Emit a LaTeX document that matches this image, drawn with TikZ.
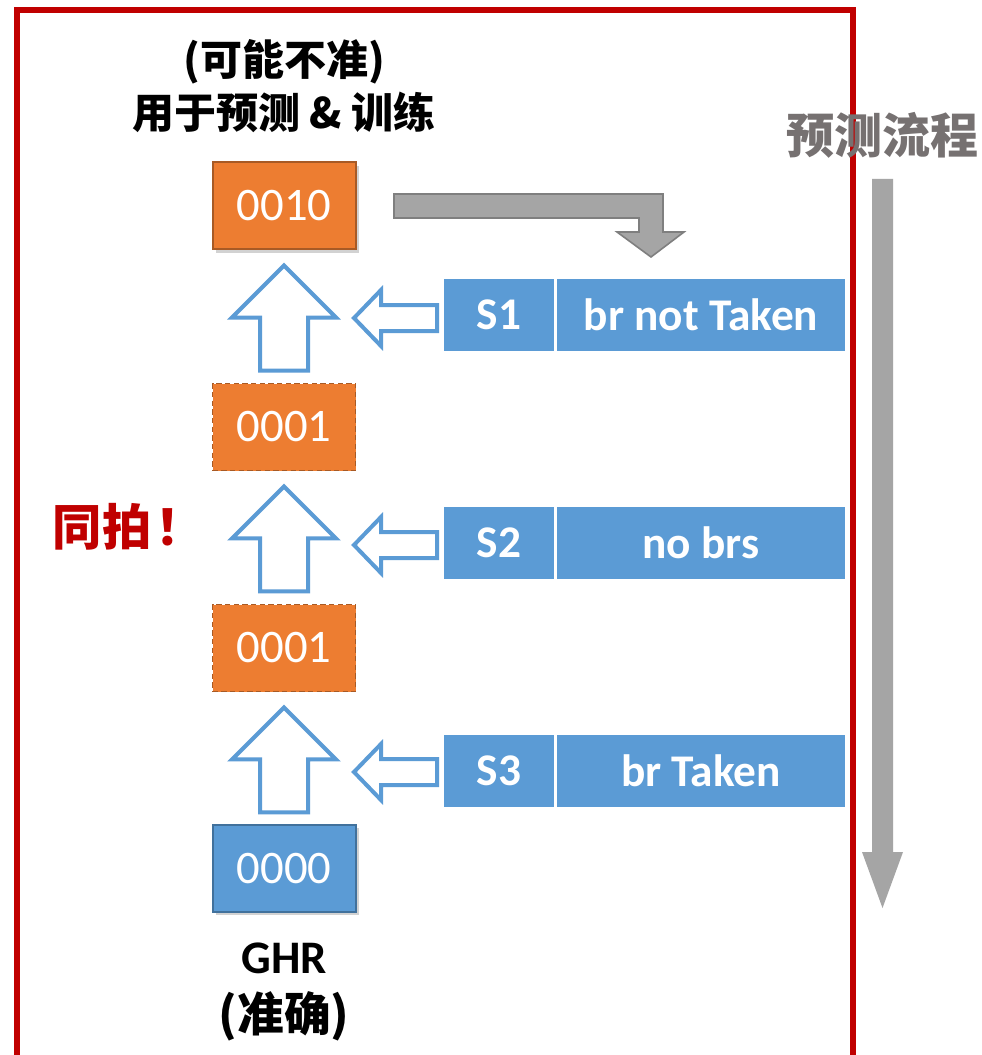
\documentclass[tikz,border=0pt]{standalone}
\usepackage{fontspec}
\setmainfont{Carlito}
\newfontfamily\cjk{Noto Sans CJK SC}
\usetikzlibrary{calc,shadows}
\definecolor{myred}{HTML}{C00000}
\definecolor{myorange}{HTML}{ED7D31}
\definecolor{myorangeb}{HTML}{A85A25}
\definecolor{myblue}{HTML}{5B9BD5}
\definecolor{mybluebd}{HTML}{41719C}
\definecolor{mygray}{HTML}{A5A5A5}
\definecolor{mygrayb}{HTML}{7F7F7F}
\definecolor{mytextgray}{HTML}{767171}
\tikzset{
  regbox/.style={minimum width=143*0.75pt, minimum height=87*0.75pt, inner sep=0pt,
    text=white, font=\fontsize{35}{40}\selectfont, line width=1.5pt,
    drop shadow={opacity=0.35, shadow xshift=2.5pt, shadow yshift=-2.5pt}},
  orangebox/.style={regbox, fill=myorange, draw=myorangeb},
  orangedash/.style={fill=myorange, draw=myorangeb, minimum width=143*0.75pt, minimum height=87*0.75pt,
    inner sep=0pt, text=white, font=\fontsize{35}{40}\selectfont, line width=1.4pt, dash pattern=on 4pt off 2.5pt},
  bluebox/.style={regbox, fill=myblue, draw=mybluebd},
  sbox/.style={fill=myblue, inner sep=0pt, minimum height=72*0.75pt, text=white,
    font=\fontsize{34}{40}\selectfont\bfseries},
  outarrow/.style={draw=myblue, fill=white, line width=3pt, line join=miter},
  grayarrow/.style={fill=mygray, draw=mygrayb, line width=1.2pt, line join=miter},
  cjkbold/.style={font=\cjk\bfseries\fontsize{31.5}{40}\selectfont, align=center},
  pics/uparrow/.style={code={
    \draw[outarrow] (0,0) -- (52,52) -- (24,52) -- (24,105) -- (-24,105) -- (-24,52) -- (-52,52) -- cycle;
  }},
  pics/leftarrow/.style={code={
    \draw[outarrow] (0,0) -- (27,-28) -- (27,-13) -- (83,-13) -- (83,13) -- (27,13) -- (27,28) -- cycle;
  }},
}
\begin{document}
\begin{tikzpicture}[x=0.75pt,y=-0.75pt]
\useasboundingbox (0,0) rectangle (981,1055);
\clip (0,0) rectangle (981,1055);
\fill[white] (0,0) rectangle (981,1055);

% red frame
\draw[myred, line width=4.5pt] (17,1080) -- (17,10) -- (853,10) -- (853,1080);

% title
\node[cjkbold] (title) at (284,86) {(可能不准)\\用于预测 \& 训练};

% register boxes
\node[orangebox] (r3) at (284,206) {\raisebox{-2pt}{0010}};
\node[orangedash] (r2) at (284,427) {\raisebox{-2pt}{0001}};
\node[orangedash] (r1) at (284,648) {\raisebox{-2pt}{0001}};
\node[bluebox] (r0) at (284,868.5) {\raisebox{-2pt}{0000}};

% up block arrows
\pic at ($(r3.south)+(0,15)$) {uparrow};
\pic at ($(r2.south)+(0,15)$) {uparrow};
\pic at ($(r1.south)+(0,15)$) {uparrow};

% stage boxes
\node[sbox, minimum width=110*0.75pt] (s1) at (499,315) {S1};
\node[sbox, minimum width=288*0.75pt] (d1) at (701,315) {br not Taken};
\node[sbox, minimum width=110*0.75pt] (s2) at (499,542.5) {S2};
\node[sbox, minimum width=288*0.75pt] (d2) at (701,542.5) {no brs};
\node[sbox, minimum width=110*0.75pt] (s3) at (499,770.5) {S3};
\node[sbox, minimum width=288*0.75pt] (d3) at (701,770.5) {br Taken};

% left block arrows
\pic at (354,318) {leftarrow};
\pic at (354,545) {leftarrow};
\pic at (354,772) {leftarrow};

% gray bent arrow
\draw[grayarrow] (394,194) -- (663,194) -- (663,232) -- (684,232) -- (651,257) -- (617,232) -- (639,232) -- (639,218) -- (394,218) -- cycle;

% flow label and long gray arrow
\node[font=\cjk\bfseries\fontsize{36}{40}\selectfont, text=mytextgray] (flow) at (882,135) {预测流程};
\fill[mygray] (872,179) -- (893,179) -- (893,852) -- (903,852) -- (882.5,908) -- (862,852) -- (872,852) -- cycle;

% same cycle label
\node[font=\cjk\bfseries\fontsize{37}{40}\selectfont, text=myred, anchor=west] (same) at (48,527) {同拍\hspace{3pt}！};

% GHR label
\node[align=center, font=\fontsize{35}{43}\selectfont\bfseries] (ghr) at (284,992) {GHR\\{\cjk(准确)}};
\end{tikzpicture}
\end{document}
